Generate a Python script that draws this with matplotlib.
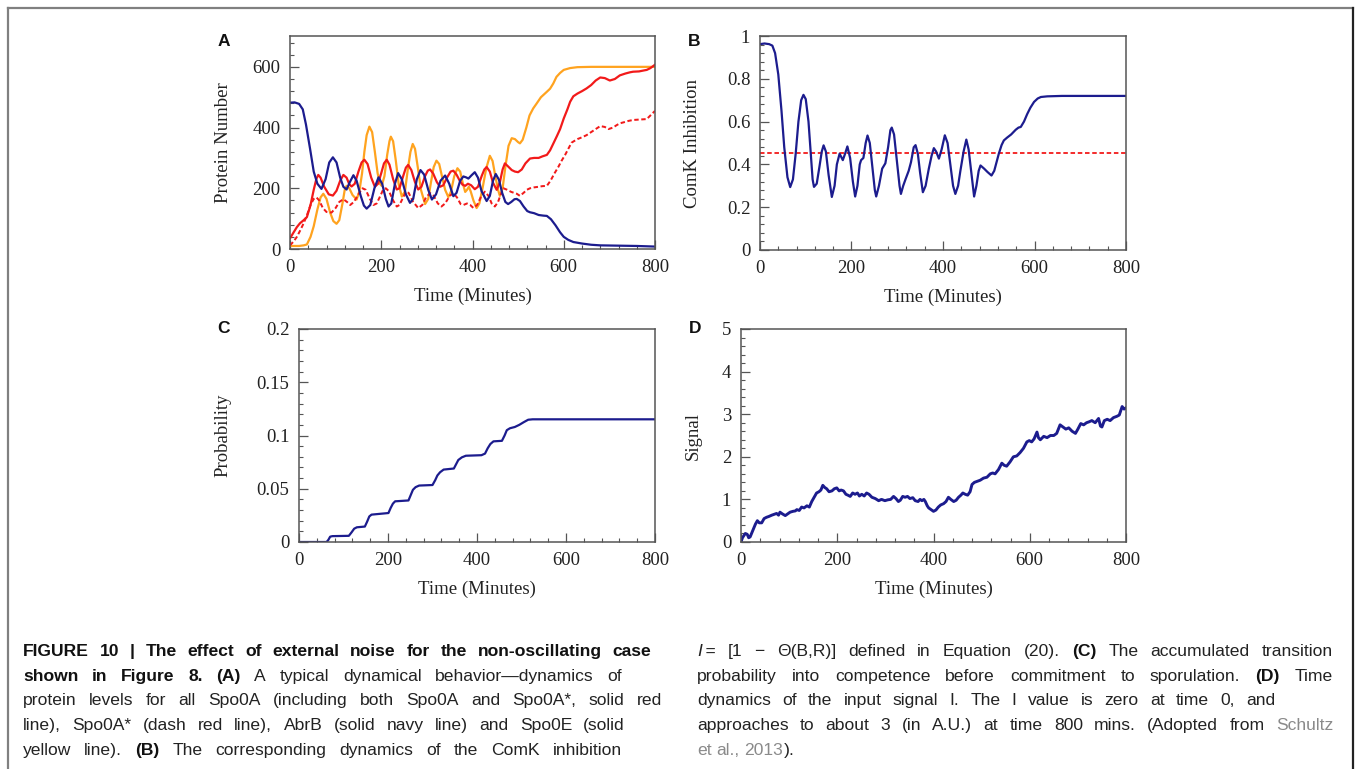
import matplotlib
matplotlib.use('Agg')
import matplotlib.pyplot as plt
from matplotlib.ticker import MultipleLocator
from matplotlib.lines import Line2D

# ---------------- data ----------------
# Panel A: protein numbers
abrb_t = [0, 10, 20, 28, 35, 44, 52, 60, 69, 78, 86, 94, 102, 110, 117, 124, 131, 139, 146, 155,
          162, 168, 176, 185, 194, 202, 210, 216, 222, 230, 237, 245, 254, 263, 270, 278, 286, 294,
          303, 311, 320, 330, 340, 349, 358, 365, 373, 380, 386, 391, 398, 405, 412, 420, 431, 438,
          445, 451, 458, 465, 472, 478, 485, 492, 497, 504, 512, 520, 526, 535, 545, 555, 563, 572,
          582, 592, 600, 610, 621, 640, 660, 680, 720, 760, 800]
abrb_v = [482, 483, 478, 460, 410, 330, 255, 215, 198, 230, 285, 302, 285, 235, 205, 196, 220, 243,
          225, 175, 143, 133, 145, 200, 236, 215, 165, 140, 150, 215, 250, 230, 180, 152, 165, 230,
          260, 245, 195, 163, 180, 225, 242, 215, 174, 185, 225, 239, 236, 232, 243, 253, 235, 190,
          158, 175, 225, 247, 228, 185, 155, 148, 155, 164, 165, 158, 140, 125, 121, 118, 112, 110,
          109, 98, 78, 55, 40, 30, 23, 18, 14, 12, 11, 10, 8]

spo0a_t = [0, 8, 15, 22, 30, 37, 45, 52, 58, 62, 67, 75, 85, 94, 102, 110, 117, 124, 130, 135, 142,
           150, 157, 163, 170, 178, 186, 193, 200, 206, 212, 218, 226, 234, 240, 248, 254, 259, 266,
           274, 281, 288, 296, 302, 307, 314, 322, 329, 336, 344, 352, 358, 365, 372, 378, 384, 390,
           397, 405, 412, 420, 426, 431, 438, 445, 453, 460, 466, 471, 478, 486, 493, 500, 508, 516,
           526, 535, 545, 553, 563, 570, 578, 585, 592, 600, 608, 614, 621, 630, 640, 650, 660, 670,
           680, 690, 701, 712, 723, 735, 745, 752, 765, 775, 782, 790, 800]
spo0a_v = [35, 55, 72, 85, 95, 105, 145, 195, 232, 244, 235, 205, 180, 176, 192, 225, 244, 235, 213,
           206, 215, 255, 285, 294, 280, 235, 205, 215, 250, 282, 294, 278, 230, 196, 200, 240, 268,
           277, 260, 220, 196, 205, 240, 258, 262, 248, 220, 205, 210, 235, 255, 258, 245, 225, 212,
           208, 215, 210, 197, 205, 240, 262, 270, 255, 218, 195, 220, 262, 282, 272, 260, 255, 253,
           262, 282, 298, 300, 300, 305, 310, 325, 350, 372, 395, 430, 460, 485, 503, 512, 520, 529,
           540, 555, 565, 563, 555, 560, 572, 578, 582, 584, 585, 588, 590, 596, 607]

spo0a_star_t = [0, 8, 15, 22, 30, 38, 45, 52, 58, 64, 72, 80, 91, 100, 108, 117, 125, 132, 140, 150,
                159, 166, 175, 183, 190, 198, 204, 210, 217, 226, 234, 240, 248, 254, 260, 270, 281,
                290, 298, 307, 315, 324, 332, 340, 350, 358, 366, 374, 380, 388, 395, 402, 410, 418,
                427, 435, 442, 449, 456, 462, 468, 476, 485, 497, 504, 512, 519, 526, 535, 545, 553,
                563, 571, 580, 588, 595, 603, 610, 617, 621, 630, 640, 650, 660, 670, 680, 690, 698,
                708, 716, 723, 733, 742, 752, 762, 772, 782, 790, 800]
spo0a_star_v = [12, 25, 40, 60, 85, 115, 145, 165, 170, 160, 135, 122, 120, 135, 155, 164, 155, 145,
                155, 180, 200, 195, 165, 145, 150, 175, 195, 200, 190, 160, 140, 145, 170, 188, 185,
                155, 135, 145, 170, 184, 175, 150, 140, 150, 175, 184, 170, 148, 145, 150, 145, 135,
                145, 170, 189, 175, 150, 140, 155, 180, 200, 195, 188, 182, 175, 185, 195, 200, 203,
                205, 207, 208, 225, 250, 270, 290, 310, 330, 350, 354, 362, 368, 375, 385, 395, 405,
                402, 395, 400, 408, 414, 418, 422, 425, 426, 427, 428, 440, 455]

spo0e_t = [0, 10, 20, 30, 37, 45, 52, 60, 67, 73, 80, 88, 95, 102, 108, 115, 120, 124, 130, 137, 146,
           152, 158, 163, 168, 174, 180, 186, 192, 197, 201, 207, 213, 218, 221, 226, 232, 238, 245,
           252, 258, 264, 269, 274, 280, 287, 296, 303, 309, 315, 321, 327, 333, 340, 347, 353, 360,
           367, 373, 379, 384, 388, 392, 396, 402, 409, 415, 422, 430, 438, 444, 450, 456, 460, 466,
           472, 479, 486, 493, 500, 504, 510, 518, 525, 533, 540, 550, 563, 570, 577, 584, 592, 600,
           614, 630, 660, 800]
spo0e_v = [10, 10, 10, 12, 15, 40, 75, 130, 170, 182, 165, 120, 92, 83, 95, 150, 195, 208, 200, 178,
           163, 190, 250, 320, 375, 403, 385, 320, 250, 215, 208, 240, 310, 355, 370, 355, 290, 215,
           173, 190, 260, 320, 346, 330, 270, 195, 148, 165, 220, 270, 291, 280, 240, 195, 171, 190,
           240, 266, 255, 215, 188, 195, 205, 190, 160, 135, 150, 200, 265, 307, 290, 240, 195, 175,
           200, 270, 340, 365, 362, 352, 348, 360, 400, 440, 463, 478, 500, 518, 528, 545, 567, 580,
           590, 596, 599, 600, 600]

# Panel B: ComK inhibition
comk_t = [0, 10, 20, 27, 33, 40, 47, 53, 60, 66, 72, 78, 84, 90, 95, 100, 106, 111, 115, 118, 124,
          130, 135, 139, 144, 150, 157, 163, 168, 174, 181, 186, 191, 197, 203, 208, 213, 218, 221,
          226, 231, 235, 240, 246, 251, 254, 260, 267, 274, 280, 285, 288, 293, 300, 305, 308, 313,
          318, 325, 330, 336, 340, 345, 350, 356, 362, 369, 375, 380, 385, 391, 397, 404, 410, 416,
          422, 427, 433, 438, 445, 451, 456, 462, 468, 473, 478, 482, 490, 497, 506, 512, 517, 522,
          528, 533, 540, 549, 559, 565, 570, 577, 584, 591, 599, 607, 614, 628, 660, 800]
comk_v = [0.962, 0.965, 0.962, 0.955, 0.92, 0.82, 0.65, 0.48, 0.34, 0.294, 0.33, 0.45, 0.6, 0.7,
          0.725, 0.705, 0.6, 0.45, 0.33, 0.295, 0.31, 0.39, 0.46, 0.489, 0.46, 0.35, 0.248, 0.3, 0.4,
          0.45, 0.42, 0.45, 0.484, 0.43, 0.32, 0.25, 0.3, 0.4, 0.42, 0.43, 0.5, 0.535, 0.5, 0.38,
          0.28, 0.25, 0.3, 0.38, 0.405, 0.48, 0.56, 0.572, 0.54, 0.4, 0.3, 0.262, 0.3, 0.33, 0.37,
          0.41, 0.48, 0.49, 0.45, 0.36, 0.27, 0.3, 0.38, 0.44, 0.476, 0.46, 0.427, 0.47, 0.536, 0.5,
          0.4, 0.3, 0.262, 0.3, 0.37, 0.46, 0.516, 0.47, 0.36, 0.25, 0.3, 0.37, 0.395, 0.38, 0.365,
          0.348, 0.37, 0.41, 0.45, 0.49, 0.512, 0.525, 0.54, 0.562, 0.572, 0.575, 0.6, 0.635, 0.665,
          0.692, 0.708, 0.715, 0.718, 0.72, 0.72]
comk_threshold = 0.455

# Panel C: accumulated probability
prob_t = [0, 62, 66, 70, 75, 112, 118, 124, 130, 148, 153, 158, 163, 201, 206, 211, 216, 246, 251,
          256, 262, 270, 300, 306, 311, 317, 325, 348, 353, 358, 366, 375, 410, 418, 424, 430, 437,
          456, 462, 467, 474, 485, 495, 505, 515, 525, 800]
prob_v = [0, 0, 0.002, 0.005, 0.0055, 0.0058, 0.009, 0.0125, 0.0138, 0.0145, 0.019, 0.024, 0.0257,
          0.0272, 0.032, 0.036, 0.0382, 0.039, 0.044, 0.049, 0.0515, 0.053, 0.0535, 0.058, 0.0625,
          0.0655, 0.068, 0.069, 0.073, 0.077, 0.0795, 0.081, 0.0815, 0.083, 0.088, 0.092, 0.0945,
          0.095, 0.1, 0.105, 0.1068, 0.108, 0.11, 0.1125, 0.1148, 0.1152, 0.1152]

# Panel D: input signal
sig_t = [0, 3, 6, 9, 13, 16, 19, 22, 26, 30, 34, 38, 43, 48, 53, 58, 64, 69, 74, 78, 81, 86, 92, 97,
         102, 108, 113, 116, 121, 126, 131, 137, 142, 147, 152, 157, 162, 166, 170, 174, 178, 183,
         189, 194, 199, 204, 208, 213, 218, 222, 227, 232, 237, 242, 246, 251, 256, 261, 266, 272,
         279, 286, 292, 299, 305, 311, 317, 322, 327, 331, 336, 341, 346, 351, 357, 362, 368, 372,
         376, 380, 383, 387, 390, 395, 400, 405, 410, 415, 421, 426, 431, 436, 442, 447, 452, 457,
         461, 466, 471, 476, 480, 485, 490, 497, 504, 511, 518, 523, 528, 535, 542, 547, 552, 559,
         566, 573, 580, 587, 594, 599, 604, 609, 615, 618, 622, 629, 636, 643, 650, 656, 663, 669,
         675, 681, 688, 695, 700, 706, 712, 718, 723, 729, 736, 743, 747, 750, 755, 761, 767, 774,
         781, 786, 792, 796, 800]
sig_v = [0.0, 0.1, 0.15, 0.2, 0.18, 0.1, 0.12, 0.2, 0.3, 0.42, 0.5, 0.45, 0.45, 0.55, 0.58, 0.6,
         0.63, 0.65, 0.67, 0.63, 0.7, 0.66, 0.62, 0.66, 0.7, 0.72, 0.73, 0.76, 0.74, 0.82, 0.8, 0.85,
         0.82, 0.95, 1.05, 1.15, 1.18, 1.22, 1.33, 1.28, 1.25, 1.18, 1.2, 1.25, 1.27, 1.2, 1.22,
         1.2, 1.12, 1.1, 1.07, 1.15, 1.12, 1.15, 1.08, 1.12, 1.08, 1.15, 1.12, 1.05, 1.02, 0.97, 1.0,
         0.97, 0.99, 1.0, 1.07, 1.02, 0.95, 0.98, 1.07, 1.05, 1.07, 1.02, 1.04, 0.97, 0.95, 1.0,
         0.97, 1.0, 0.95, 0.85, 0.8, 0.76, 0.72, 0.75, 0.82, 0.87, 0.9, 0.95, 1.05, 1.0, 0.95, 0.98,
         1.05, 1.1, 1.15, 1.12, 1.1, 1.18, 1.35, 1.4, 1.42, 1.45, 1.5, 1.52, 1.6, 1.62, 1.6, 1.7,
         1.85, 1.8, 1.78, 1.88, 2.0, 2.02, 2.1, 2.2, 2.35, 2.38, 2.35, 2.42, 2.58, 2.45, 2.4, 2.48,
         2.45, 2.5, 2.5, 2.55, 2.75, 2.7, 2.65, 2.68, 2.6, 2.55, 2.65, 2.78, 2.75, 2.8, 2.82, 2.85,
         2.8, 2.9, 2.72, 2.7, 2.85, 2.88, 2.85, 2.92, 2.95, 2.98, 3.18, 3.12, 3.15]

x_ticks = [0, 200, 400, 600, 800]
a_yticks = [0, 200, 400, 600]
b_yticks = [0, 0.2, 0.4, 0.6, 0.8, 1.0]
b_ylabels = ['0', '0.2', '0.4', '0.6', '0.8', '1']
c_yticks = [0, 0.05, 0.1, 0.15, 0.2]
c_ylabels = ['0', '0.05', '0.1', '0.15', '0.2']
d_yticks = [0, 1, 2, 3, 4, 5]

# ---------------- figure ----------------
W, H = 1355, 769
SERIF = ['Liberation Serif', 'DejaVu Serif']
SANS = ['Liberation Sans', 'DejaVu Sans']
plt.rcParams['font.family'] = SERIF

NAVY = '#1c1c8e'
RED = '#f21a1a'
ORANGE = '#ffa31f'
FRAME = '#555555'
TXT = '#222222'

fig = plt.figure(figsize=(W / 100, H / 100), dpi=100)


def ax_at(left, top, right, bottom):
    return fig.add_axes([left / W, 1 - bottom / H, (right - left) / W, (bottom - top) / H])


def style(ax, ylim, yticks, ylabels, yminor, ylabel, ylab_x):
    ax.set_xlim(0, 800)
    ax.set_ylim(*ylim)
    ax.set_xticks(x_ticks)
    ax.set_xticklabels([str(v) for v in x_ticks])
    ax.set_yticks(yticks)
    ax.set_yticklabels(ylabels)
    ax.xaxis.set_minor_locator(MultipleLocator(40))
    ax.yaxis.set_minor_locator(MultipleLocator(yminor))
    ax.tick_params(which='both', direction='in', top=False, right=False,
                   color=FRAME, labelcolor=TXT, labelsize=13.5)
    ax.tick_params(which='major', length=6.5, width=0.9, pad=7)
    ax.tick_params(which='minor', length=3.2, width=0.8)
    for sp in ax.spines.values():
        sp.set_color(FRAME)
        sp.set_linewidth(1.1)
    ax.set_ylabel(ylabel, fontsize=13.5, color=TXT)
    ax.yaxis.label.set_va('center')
    ax.yaxis.set_label_coords(ylab_x, 0.5)
    ax.set_xlabel('Time (Minutes)', fontsize=13.5, color=TXT)
    ax.xaxis.label.set_va('center')
    ax.xaxis.set_label_coords(0.5, -0.221)


LW = 1.6

# Panel A
axA = ax_at(290, 36.5, 655, 249)
axA.plot(spo0e_t, spo0e_v, color=ORANGE, lw=LW)
axA.plot(spo0a_star_t, spo0a_star_v, color=RED, lw=LW * 0.9, dashes=(2.2, 1.3))
axA.plot(spo0a_t, spo0a_v, color=RED, lw=LW)
axA.plot(abrb_t, abrb_v, color=NAVY, lw=LW)
style(axA, (0, 700), a_yticks, [str(v) for v in a_yticks], 40, 'Protein Number', (223 - 290) / 365)

# Panel B
axB = ax_at(760, 36, 1126, 250)
axB.axhline(comk_threshold, color=RED, lw=1.3, dashes=(2.5, 1.5))
axB.plot(comk_t, comk_v, color=NAVY, lw=LW)
style(axB, (0, 1), b_yticks, b_ylabels, 0.04, 'ComK Inhibition', (693 - 760) / 366)

# Panel C
axC = ax_at(299, 329, 655, 542)
axC.plot(prob_t, prob_v, color=NAVY, lw=LW)
style(axC, (0, 0.2), c_yticks, c_ylabels, 0.01, 'Probability', (223 - 299) / 356)

# Panel D
axD = ax_at(741, 329, 1126, 542)
axD.plot(sig_t, sig_v, color=NAVY, lw=2.1)
style(axD, (0, 5), d_yticks, [str(v) for v in d_yticks], 0.2, 'Signal', (693 - 741) / 385)

# panel letters
for lab, x, y in [('A', 224, 42), ('B', 694.5, 41), ('C', 224, 328), ('D', 695, 328)]:
    fig.text(x / W, 1 - y / H, lab, family=SANS, fontweight='bold', fontsize=12.5,
             ha='center', va='center', color='#111111')

# border
fig.add_artist(Line2D([8 / W, 1353 / W], [1 - 8 / H, 1 - 8 / H], transform=fig.transFigure,
                      color='#808080', lw=1.6))
fig.add_artist(Line2D([8 / W, 8 / W], [1 - 8 / H, 0], transform=fig.transFigure,
                      color='#808080', lw=1.6))
fig.add_artist(Line2D([1353 / W, 1353 / W], [1 - 8 / H, 0], transform=fig.transFigure,
                      color='#222222', lw=1.6))

# ---------------- caption (justified) ----------------
renderer = fig.canvas.get_renderer()
FS = 12.6
STY = {'n': dict(color='#222222'),
       'b': dict(color='#111111', fontweight='bold'),
       'g': dict(color='#8a8a8a'),
       'i': dict(color='#222222', fontstyle='italic')}


def caption_line(words, x0, x1, ybase, justify=True):
    placed = []
    widths = []
    for w in words:
        runs = []
        tot = 0
        for txt, st in w:
            t = fig.text(0, 0, txt, fontsize=FS, family=SANS, va='baseline', ha='left', **STY[st])
            wd = t.get_window_extent(renderer).width
            runs.append((t, wd))
            tot += wd
        placed.append(runs)
        widths.append(tot)
    n = len(words) - 1
    space = 0.278 * FS * 100 / 72
    if justify and n > 0:
        gap = max((x1 - x0 - sum(widths)) / n, 0.6 * space)
    else:
        gap = space
    x = x0
    for runs, tot in zip(placed, widths):
        xx = x
        for t, wd in runs:
            t.set_position((xx / W, 1 - ybase / H))
            xx += wd
        x += tot + gap


def simple(text, st='n'):
    return [[(w, st)] for w in text.split()]


L0 = 23
R0 = 697
BASE = [656, 680.7, 705.4, 730.1, 754.8]

left_lines = [
    (simple('FIGURE 10 | The effect of external noise for the non-oscillating case', 'b'), 651),
    (simple('shown in Figure 8.', 'b') + [[('(A)', 'b')]] + simple('A typical dynamical behavior\u2014dynamics of'), 622),
    (simple('protein levels for all Spo0A (including both Spo0A and Spo0A*, solid red'), 662),
    (simple('line), Spo0A* (dash red line), AbrB (solid navy line) and Spo0E (solid'), 625),
    (simple('yellow line).') + [[('(B)', 'b')]] + simple('The corresponding dynamics of the ComK inhibition'), 622),
]
for (words, xend), yb in zip(left_lines, BASE):
    caption_line(words, L0, xend, yb)

right_lines = [
    ([[('I', 'i'), ('\u2009=', 'n')]] + simple('[1 \u2212 \u0398(B,R)] defined in Equation (20).')
     + [[('(C)', 'b')]] + simple('The accumulated transition'), 1333, True),
    (simple('probability into competence before commitment to sporulation.') + [[('(D)', 'b')]]
     + simple('Time'), 1333, True),
    (simple('dynamics of the input signal I. The I value is zero at time 0, and'), 1275, True),
    (simple('approaches to about 3 (in A.U.) at time 800\u2009mins. (Adopted from') + [[('Schultz', 'g')]],
     1333, True),
    ([[('et', 'g')], [('al.,', 'g')], [('2013', 'g'), (').', 'n')]], 0, False),
]
for (words, xend, just), yb in zip(right_lines, BASE):
    caption_line(words, R0, xend, yb, justify=just)

fig.savefig('out.png', dpi=100)
